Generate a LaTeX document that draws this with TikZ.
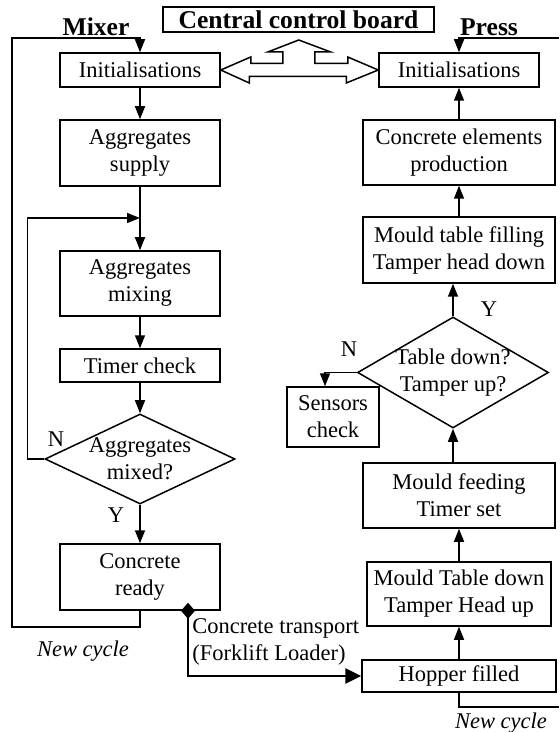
\documentclass[tikz,border=0pt]{standalone}
\usepackage{fontspec}
\setmainfont{Liberation Serif}
\usetikzlibrary{arrows.meta,shapes.geometric}

\newcommand\basefont{\fontsize{11.25}{13.5}\selectfont}

\begin{document}
\begin{tikzpicture}[x=0.5pt, y=-0.5pt, font=\basefont,
    box/.style={draw, line width=0.75pt, inner sep=0pt, align=center,
      minimum width=80pt, minimum height=33pt},
    wide/.style={box, minimum width=96pt},
    decide/.style={diamond, draw, line width=0.75pt, inner sep=0pt},
    flow/.style={line width=0.75pt, -{Triangle[length=6.5pt,width=5pt]}},
    link/.style={line width=0.75pt},
    haul/.style={line width=1.4pt, -{Triangle[length=8pt,width=7.5pt]}},
    hollow/.style={draw, line width=0.75pt, line join=miter, fill=white},
    heading/.style={font=\fontsize{12.8}{14}\selectfont\bfseries},
    note/.style={font=\basefont\itshape}]

    \useasboundingbox (0,0) rectangle (559,732);

    % Headings and the control board
    \node[heading] (mixer) at (96,27) {Mixer};
    \node[heading, draw, line width=0.75pt, inner sep=0pt,
      minimum width=135.5pt, minimum height=12.5pt] (board) at (298.5,19.5) {Central control board};
    \node[heading] (press) at (489,27) {Press};

    % Mixer steps
    \node[box, minimum height=17pt] (initL) at (140,70) {Initialisations};
    \node[box] (supply) at (140,153) {Aggregates\\supply};
    \node[box, minimum height=32.5pt] (mixing) at (140,283.5) {Aggregates\\mixing};
    \node[box, minimum height=16.5pt] (timer) at (140,365.5) {Timer check};
    \node[decide, minimum width=95pt, minimum height=45pt,
      label={[align=center]center:Aggregates\\mixed?}] (mixed) at (140,459) {};
    \node[box] (ready) at (140,577) {Concrete\\ready};

    % Press steps
    \node[box, minimum height=17pt] (initR) at (459,70) {Initialisations};
    \node[wide, minimum height=32.5pt] (elem) at (459,152.5) {Concrete elements\\production};
    \node[wide] (fill) at (459,250) {Mould table filling\\Tamper head down};
    \node[decide, minimum width=95.5pt, minimum height=55.5pt,
      label={[align=center]center:Table down?\\Tamper up?}] (check) at (453,372.5) {};
    \node[box, minimum width=46pt, minimum height=30pt] (sensors) at (333,417) {Sensors\\check};
    \node[wide, minimum height=32.5pt] (feed) at (459,495.5) {Mould feeding\\Timer set};
    \node[wide, minimum width=92pt, minimum height=32pt] (down) at (459,594) {Mould Table down\\Tamper Head up};
    \node[wide, minimum width=97pt, minimum height=16pt] (hopper) at (459,676) {Hopper filled};

    % Branch labels
    \node (nL) at (56,439) {N};
    \node (yL) at (116,515) {Y};
    \node (nR) at (349,349) {N};
    \node (yR) at (489,309) {Y};
    \node[note] (cycL) at (83,651) {New cycle};
    \node[note] (cycR) at (501,723) {New cycle};
    \node[anchor=west, align=left, inner sep=0pt] (haulnote) at (192,642) {Concrete transport\\(Forklift Loader)};

    % Mixer flow
    \coordinate (join) at (140,218);
    \coordinate (mixtop) at (12,38);
    \draw[flow] (initL) -- (supply);
    \draw[flow] (supply) -- (mixing);
    \draw[flow] (mixing) -- (timer);
    \draw[flow] (timer) -- (mixed);
    \draw[flow] (mixed) -- (ready);
    \draw[flow] (mixed.west) -- ++(-17,0) |- (join);
    \draw[flow] (ready.south) -- ++(0,16) -| (mixtop) -| (initL.north);

    % Press flow
    \coordinate (presstop) at (559,38);
    \coordinate (pressend) at (559,707);
    \draw[flow] (presstop) -| (initR.north);
    \draw[flow] (hopper) -- (down);
    \draw[flow] (down) -- (feed);
    \draw[flow] (feed.north -| check) -- (check.south);
    \draw[flow] (check.north) -- (check.north |- fill.south);
    \draw[flow] (fill) -- (elem);
    \draw[flow] (elem) -- (initR);
    \draw[flow] (check.west) -| ([xshift=-4pt]sensors.north);
    \draw[link] (hopper.south) |- (pressend);

    % Concrete hand-over from mixer to hopper
    \coordinate (tap) at ([xshift=24pt]ready.south);
    \draw[haul] (tap) |- (hopper.west);
    \fill (tap) +(0,-8) -- +(7,0) -- +(0,8) -- +(-7,0) -- cycle;

    % Double arrow to the control board
    \draw[hollow] (initL.east) -- ++(30,-13) -- ++(0,6.5) -- ++(32,0) -- ++(0,-11.5)
      -- ++(-15,0) -- ++(31,-12) -- ++(32,12) -- ++(-16,0) -- ++(0,11.5) -- ++(33,0)
      -- ++(0,-6.5) -- (initR.west) -- ++(-32,13) -- ++(0,-6.5) -- ++(-97,0)
      -- ++(0,6.5) -- cycle;
\end{tikzpicture}
\end{document}
